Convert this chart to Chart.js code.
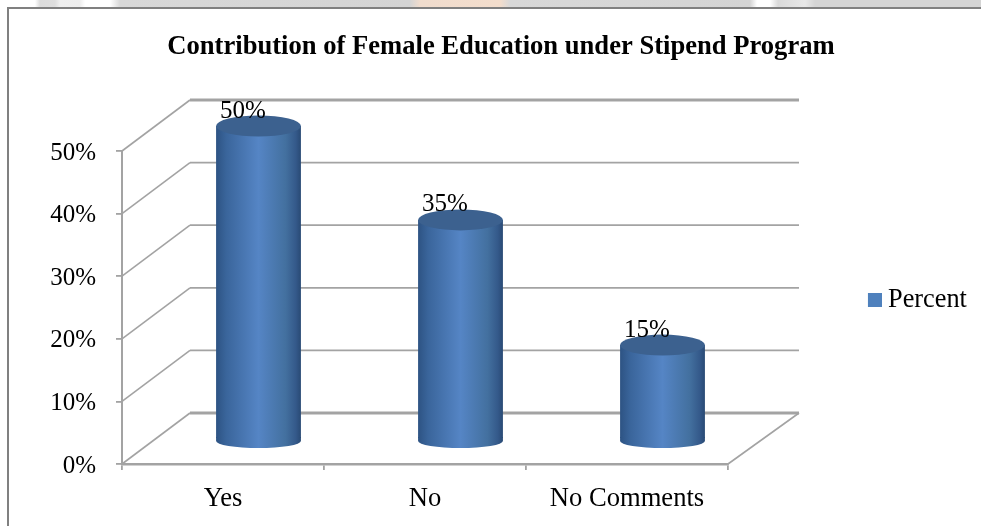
<!DOCTYPE html>
<html><head><meta charset="utf-8">
<script src="https://cdn.jsdelivr.net/npm/chart.js@4"></script>
<style>
html,body{margin:0;padding:0;background:#fff;overflow:hidden}
#wrap{position:relative;width:981px;height:526px}
#strip{position:absolute;left:0;top:0;width:981px;height:7px;background:linear-gradient(90deg,#fff 0,#fff 35px,#dcdcdc 40px,#dedede 55px,#efefef 60px,#eeeeee 80px,#fff 85px,#fff 110px,#d8d8d8 120px,#d4d4d4 410px,#f0dccd 420px,#f3ddcc 500px,#d8d8d8 510px,#d4d4d4 750px,#fff 757px,#fff 770px,#dadada 778px,#e8e8e8 805px,#d4d4d4 815px)}
#frameT{position:absolute;left:7px;top:7px;width:974px;height:2px;background:#808080}
#frameL{position:absolute;left:7px;top:7px;width:2px;height:519px;background:#808080}
canvas{position:absolute;left:0;top:0;filter:blur(0.5px)}
</style></head><body>
<div id="wrap"><div id="strip"></div><canvas id="c" width="981" height="526"></canvas><div id="frameT"></div><div id="frameL"></div></div>
<script>
const categories = ["Yes", "No", "No Comments"];
const seriesName = "Percent";
const percentValues = [50, 35, 15];
const yTicks = [0, 10, 20, 30, 40, 50];
const chartTitle = "Contribution of Female Education under Stipend Program";

const SERIF = '"Liberation Serif","Times New Roman",serif';
const GRID = '#a3a3a3';
const BAR_DX = 35.5, BAR_DY = -25;
const WALL_DX = 68, WALL_DY = -51, FLOOR_R_DX = 71;
const TOP_RY = 10.5, BOT_RY = 7, BOT_DROP = 3;
const LEGEND_BLUE = '#4f81bd';

function cylGradient(ctx, x, w) {
  const g = ctx.createLinearGradient(x - w/2, 0, x + w/2, 0);
  g.addColorStop(0, '#2d5383');
  g.addColorStop(0.12, '#3a659b');
  g.addColorStop(0.5, '#5585c5');
  g.addColorStop(0.82, '#43709f');
  g.addColorStop(0.94, '#34598a');
  g.addColorStop(1, '#294a74');
  return g;
}

// legend swatch, shifted so the label sits close to the square
const swatch = document.createElement('canvas');
swatch.width = 21; swatch.height = 14;
(function(){ const s = swatch.getContext('2d'); s.fillStyle = LEGEND_BLUE; s.fillRect(7, 0, 14, 14); })();

const walls = {
  id: 'walls',
  afterLayout(chart) {
    const l = chart.legend, t = chart.titleBlock;
    l.left = 862; l.right = 975; l.top = 281; l.bottom = 315;
    l.adjustHitBoxes();
    t.left = 0; t.right = 1002;
  },
  beforeDatasetsDraw(chart) {
    const {ctx, scales:{x, y}} = chart;
    const L = x.left, R = x.right, B = y.getPixelForValue(0);
    ctx.save();
    ctx.strokeStyle = GRID; ctx.lineCap = 'butt';
    yTicks.forEach(v => {
      const py = y.getPixelForValue(v);
      ctx.lineWidth = 1.6;
      ctx.beginPath();
      ctx.moveTo(L, py);
      ctx.lineTo(L + WALL_DX, py + WALL_DY);
      ctx.stroke();
      ctx.lineWidth = (v === 50 || v === 0) ? 2.8 : 1.8;
      ctx.beginPath();
      ctx.moveTo(L + WALL_DX, py + WALL_DY);
      ctx.lineTo(R + FLOOR_R_DX, py + WALL_DY);
      ctx.stroke();
    });
    ctx.lineWidth = 1.6;
    ctx.beginPath();
    ctx.moveTo(R, B);
    ctx.lineTo(R + FLOOR_R_DX, B + WALL_DY);
    ctx.stroke();
    // bottom caps sit below the translated bars
    chart.getDatasetMeta(0).data.forEach(b => {
      const cx = b.x + BAR_DX, w = b.width, by = b.base + BAR_DY + BOT_DROP;
      ctx.fillStyle = cylGradient(ctx, cx, w);
      ctx.beginPath();
      ctx.ellipse(cx, by, w/2, BOT_RY, 0, 0, Math.PI);
      ctx.lineTo(cx - w/2, by - BOT_DROP - 1);
      ctx.lineTo(cx + w/2, by - BOT_DROP - 1);
      ctx.closePath();
      ctx.fill();
    });
    ctx.restore();
    ctx.save();
    ctx.translate(BAR_DX, BAR_DY);
  },
  afterDatasetsDraw(chart) {
    const {ctx} = chart;
    ctx.restore();
    const meta = chart.getDatasetMeta(0);
    ctx.save();
    meta.data.forEach(b => {
      ctx.fillStyle = '#3c618f';
      ctx.beginPath();
      ctx.ellipse(b.x + BAR_DX, b.y + BAR_DY, b.width/2, TOP_RY, 0, 0, Math.PI * 2);
      ctx.fill();
    });
    ctx.fillStyle = '#000';
    ctx.font = '25px ' + SERIF;
    ctx.textAlign = 'center';
    ctx.textBaseline = 'middle';
    meta.data.forEach((b, i) => {
      ctx.fillText(percentValues[i] + '%', b.x + 20, b.y - 40);
    });
    ctx.restore();
  }
};

new Chart(document.getElementById('c'), {
  type: 'bar',
  data: {
    labels: categories,
    datasets: [{
      label: seriesName,
      data: percentValues,
      barPercentage: 0.42,
      categoryPercentage: 1,
      borderWidth: 0,
      backgroundColor(c) {
        const x = c.chart.scales.x;
        if (!x || c.dataIndex === undefined) return LEGEND_BLUE;
        const px = x.getPixelForValue(c.dataIndex);
        return cylGradient(c.chart.ctx, px, x.width / categories.length * 0.42);
      }
    }]
  },
  plugins: [walls],
  options: {
    responsive: false,
    animation: false,
    layout: {autoPadding: false, padding: {left: 0, right: 253, top: 24, bottom: 0}},
    plugins: {
      tooltip: {enabled: false},
      title: {
        display: true, text: chartTitle, color: '#000',
        font: {family: SERIF, size: 26.6, weight: 'bold', lineHeight: 1.2},
        padding: {top: 7, bottom: 88.08}
      },
      legend: {
        position: 'chartArea', align: 'start',
        labels: {
          color: '#000', font: {family: SERIF, size: 26.3},
          usePointStyle: true, pointStyle: swatch, pointStyleWidth: 6.85, boxHeight: 14, padding: 6,
          generateLabels() {
            return [{text: seriesName, pointStyle: swatch, fillStyle: LEGEND_BLUE, strokeStyle: LEGEND_BLUE, lineWidth: 0, datasetIndex: 0}];
          }
        }
      }
    },
    scales: {
      x: {
        grid: {display: true, offset: true, drawOnChartArea: false, color: GRID, lineWidth: 1.8, tickLength: 6, tickColor: GRID},
        border: {display: true, color: GRID, width: 2.4},
        ticks: {color: '#000', font: {family: SERIF, size: 26.6}, padding: 13, maxRotation: 0, autoSkip: false},
        afterFit(s) { s.height = 62; }
      },
      y: {
        min: 0, max: 50,
        grid: {display: true, drawOnChartArea: false, color: GRID, lineWidth: 1.8, tickLength: 6, tickColor: GRID},
        border: {display: true, color: GRID, width: 2},
        ticks: {color: '#000', font: {family: SERIF, size: 25}, padding: 20, stepSize: 10, labelOffset: 2, callback: v => v + '%'},
        afterFit(s) { s.width = 122; }
      }
    }
  }
});
</script>
</body></html>
